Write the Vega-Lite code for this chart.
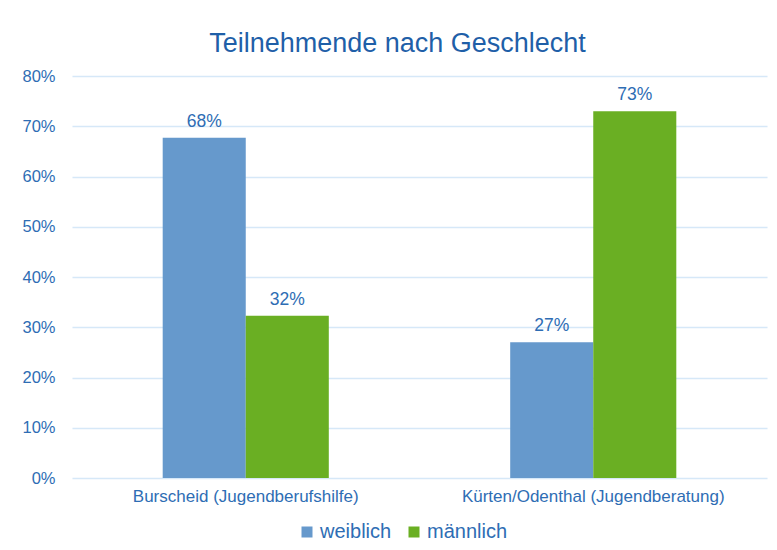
{
  "$schema": "https://vega.github.io/schema/vega-lite/v6.json",
  "width": 695,
  "height": 402,
  "autosize": {"type": "none"},
  "padding": {"left": 72, "top": 76, "right": 10, "bottom": 72},
  "background": "white",
  "title": {
    "text": "Teilnehmende nach Geschlecht",
    "font": "Liberation Sans",
    "fontSize": 27,
    "fontWeight": "normal",
    "color": "#1F5FA8",
    "anchor": "middle",
    "dx": -22,
    "offset": 10
  },
  "data": {
    "values": [
      {"ort": "Burscheid (Jugendberufshilfe)", "geschlecht": "weiblich", "anteil": 0.677},
      {"ort": "Burscheid (Jugendberufshilfe)", "geschlecht": "männlich", "anteil": 0.323},
      {"ort": "Kürten/Odenthal (Jugendberatung)", "geschlecht": "weiblich", "anteil": 0.27},
      {"ort": "Kürten/Odenthal (Jugendberatung)", "geschlecht": "männlich", "anteil": 0.73}
    ]
  },
  "encoding": {
    "x": {
      "field": "ort",
      "type": "nominal",
      "sort": null,
      "title": null,
      "scale": {"paddingInner": 0.522, "paddingOuter": 0.261},
      "axis": {
        "labelAngle": 0,
        "labelFont": "Liberation Sans",
        "labelFontSize": 17,
        "labelColor": "#2E6DB4",
        "labelPadding": 10,
        "labelLimit": 0,
        "ticks": false,
        "domain": false
      }
    },
    "xOffset": {"field": "geschlecht", "sort": ["weiblich", "männlich"], "scale": {"paddingInner": 0, "paddingOuter": 0}},
    "y": {
      "field": "anteil",
      "type": "quantitative",
      "title": null,
      "scale": {"domain": [0, 0.8]},
      "axis": {
        "format": ".0%",
        "values": [0, 0.1, 0.2, 0.3, 0.4, 0.5, 0.6, 0.7, 0.8],
        "labelOverlap": false,
        "labelFont": "Liberation Sans",
        "labelFontSize": 16.5,
        "labelColor": "#2E6DB4",
        "labelPadding": 17,
        "ticks": false,
        "domain": false,
        "grid": true,
        "gridColor": "#D6E8F8",
        "gridWidth": 1.5
      }
    }
  },
  "layer": [
    {
      "mark": {"type": "bar"},
      "encoding": {
        "color": {
          "field": "geschlecht",
          "type": "nominal",
          "sort": ["weiblich", "männlich"],
          "scale": {"domain": ["weiblich", "männlich"], "range": ["#6699CC", "#6AAF23"]},
          "title": null,
          "legend": {
            "orient": "none",
            "legendX": 225,
            "legendY": 446,
            "direction": "horizontal",
            "symbolType": "square",
            "symbolSize": 121,
            "symbolStrokeWidth": 0,
            "labelFont": "Liberation Sans",
            "labelFontSize": 20,
            "labelColor": "#2E6DB4",
            "columnPadding": 12,
            "labelOffset": 3
          }
        }
      }
    },
    {
      "mark": {"type": "text", "baseline": "alphabetic", "dy": -11, "font": "Liberation Sans", "fontSize": 17.5, "color": "#2E6DB4"},
      "encoding": {
        "text": {"field": "anteil", "type": "quantitative", "format": ".0%"}
      }
    }
  ],
  "config": {"view": {"stroke": null}}
}
